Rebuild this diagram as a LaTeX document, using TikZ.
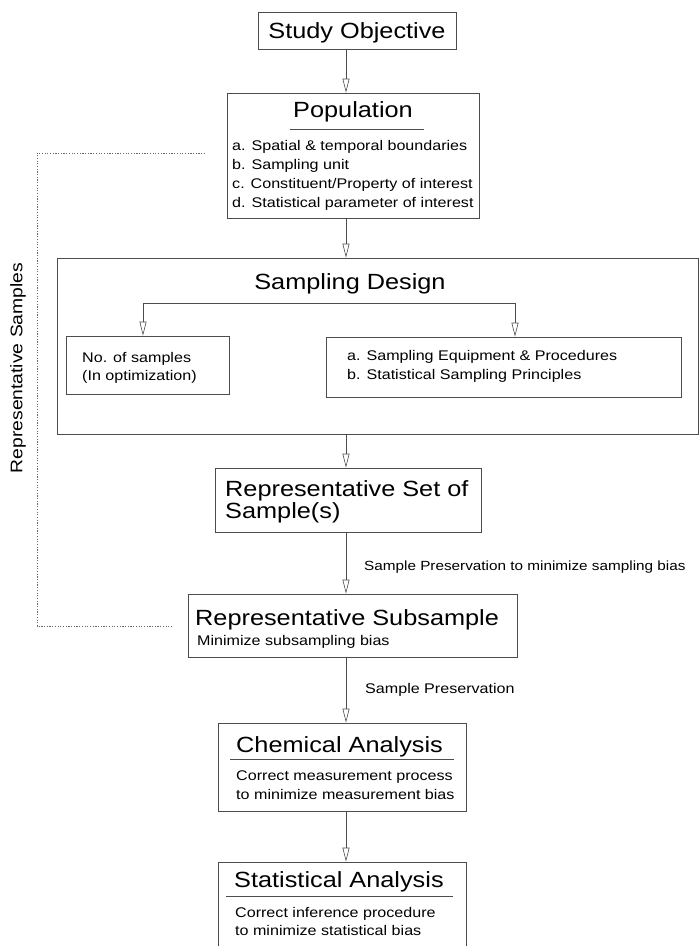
\documentclass[tikz,border=0pt]{standalone}
\usepackage{fontspec}
\setmainfont{Liberation Sans}[FakeStretch=1.15]
\usetikzlibrary{arrows.meta}

\begin{document}
\begin{tikzpicture}[x=1pt,y=-1pt,
    box/.style={draw=black!70, line width=0.7pt, inner sep=0pt},
    head/.style={font=\fontsize{22}{22}\selectfont, inner sep=0pt},
    note/.style={font=\fontsize{14}{14}\selectfont, inner sep=0pt, anchor=base west},
    rule/.style={draw=black!70, line width=0.6pt},
    fback/.style={draw=black!60, line width=0.6pt, dash pattern=on 1.2pt off 1.5pt},
    flow/.style={draw=black!70, line width=0.6pt, -{Triangle[open, length=14pt, width=7pt]}}]
    \useasboundingbox (0,0) rectangle (699,946);
    \clip (0,0) rectangle (699,946);
    \coordinate (axis) at (346,0);
    \coordinate (splitl) at (143,303);
    \coordinate (splitr) at (515,303);
    \coordinate (fbtop) at (205,153);
    \coordinate (fbbot) at (172,626);

    % boxes
    \node[box, minimum width=198pt, minimum height=37pt] (obj) at (357,30.5) {};
    \node[box, minimum width=252pt, minimum height=125pt] (pop) at (353,155.5) {};
    \node[box, minimum width=641pt, minimum height=176pt] (design) at (377.5,346) {};
    \node[box, minimum width=163pt, minimum height=58pt] (nsamp) at (147.5,365) {};
    \node[box, minimum width=355pt, minimum height=60pt] (equip) at (503.5,367) {};
    \node[box, minimum width=266pt, minimum height=64pt] (repset) at (348,500) {};
    \node[box, minimum width=329pt, minimum height=63pt] (subs) at (352.5,625.5) {};
    \node[box, minimum width=248pt, minimum height=88pt] (chem) at (342,767) {};
    \node[box, minimum width=248pt, minimum height=98pt] (stat) at (342,911) {};

    % texts
    \node[head, anchor=base] (objt) at (357,38) {Study Objective};
    \node[head, anchor=base] (popt) at (353,117) {Population};
    \draw[rule] (290,129) -- (424,129);
    \foreach \txt [count=\i from 0] in {a. Spatial \& temporal boundaries, b. Sampling unit,
        c. Constituent/Property of interest, d. Statistical parameter of interest}
      \node[note] (item\i) at (232,{150+19.3*\i}) {\txt};
    \node[head, anchor=base] (designt) at (350,289) {Sampling Design};
    \node[note] (nsamp1) at (82,362) {No. of samples};
    \node[note] (nsamp2) at (82,380) {(In optimization)};
    \node[note] (equip1) at (347,360) {a. Sampling Equipment \& Procedures};
    \node[note] (equip2) at (347,379) {b. Statistical Sampling Principles};
    \node[head, anchor=base west] (repset1) at (225,496) {Representative Set of};
    \node[head, anchor=base west] (repset2) at (225,518) {Sample(s)};
    \node[head, anchor=base west] (subst) at (195,625) {Representative Subsample};
    \node[note] (subsn) at (197,645) {Minimize subsampling bias};
    \node[head, anchor=base west] (chemt) at (236,752) {Chemical Analysis};
    \draw[rule] (230,759) -- (454,759);
    \node[note] (chem1) at (236,780) {Correct measurement process};
    \node[note] (chem2) at (236,799) {to minimize measurement bias};
    \node[head, anchor=base west] (statt) at (234,887) {Statistical Analysis};
    \draw[rule] (226,896) -- (453,896);
    \node[note] (stat1) at (235,917) {Correct inference procedure};
    \node[note] (stat2) at (235,935) {to minimize statistical bias};
    \node[note, font=\fontsize{13.3}{13.3}\selectfont] (pres1) at (364,570) {Sample Preservation to minimize sampling bias};
    \node[note] (pres2) at (365,693) {Sample Preservation};
    \node[font=\fontsize{16.8}{16.8}\selectfont, rotate=90, inner sep=0pt] (reptext) at (18,368) {Representative Samples};

    % connectors
    \draw[flow] (axis |- obj.south) -- (axis |- pop.north);
    \draw[flow] (axis |- pop.south) -- (axis |- design.north);
    \draw[flow] (splitr) -- (splitl) -- (splitl |- nsamp.north);
    \draw[flow] (splitr) -- (splitr |- equip.north);
    \draw[flow] (axis |- design.south) -- (axis |- repset.north);
    \draw[flow] (axis |- repset.south) -- (axis |- subs.north);
    \draw[flow] (axis |- subs.south) -- (axis |- chem.north);
    \draw[flow] (axis |- chem.south) -- (axis |- stat.north);
    \draw[fback] (fbtop) -- (37,153) -- (37,626) -- (fbbot);
\end{tikzpicture}
\end{document}
